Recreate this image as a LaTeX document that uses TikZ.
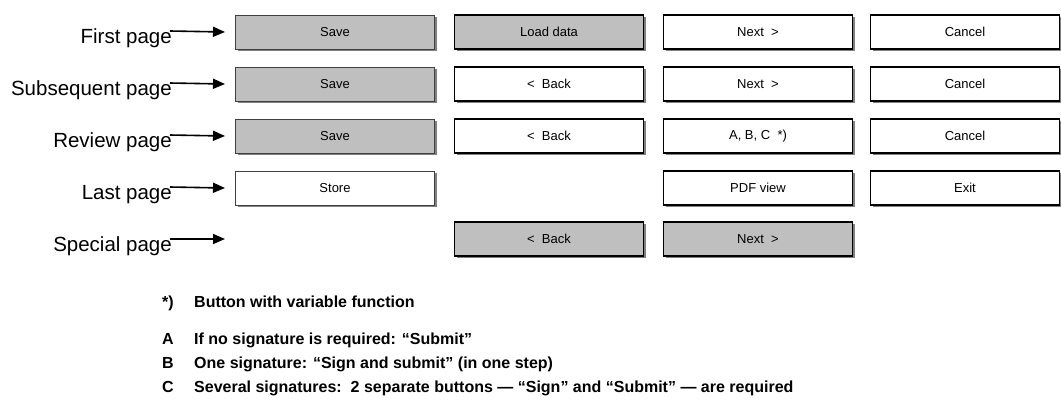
\documentclass[tikz,border=0pt]{standalone}
\usepackage{fontspec}
\setmainfont{Liberation Sans}
\usetikzlibrary{arrows.meta,shadows}

\begin{document}
\begin{tikzpicture}[x=1pt,y=-1pt,
   btn/.style={draw=black,line width=1.6pt,fill=white,minimum height=34pt,inner sep=0pt,
      drop shadow={shadow xshift=2pt,shadow yshift=-2pt,fill=black!50,opacity=1},
      font=\fontsize{13}{15}\selectfont},
   grey/.style={fill=black!25},
   thin/.style={draw=black!75,line width=0.8pt},
   wA/.style={minimum width=199pt},
   wB/.style={minimum width=189pt},
   page/.style={anchor=base east,inner sep=0pt,font=\fontsize{20.5}{24}\selectfont},
   arr/.style={-{Triangle[length=12pt,width=10pt]},line width=1.6pt},
   note/.style={anchor=base west,inner sep=0pt,font=\bfseries\fontsize{16}{19}\selectfont}]
   \useasboundingbox (0,0) rectangle (1061,400);

   % row labels
   \node[page] (first)   at (172,43)  {First page};
   \node[page] (subseq)  at (172,95)  {Subsequent page};
   \node[page] (review)  at (172,147) {Review page};
   \node[page] (last)    at (172,199) {Last page};
   \node[page] (special) at (172,251) {Special page};

   % buttons
   \node[btn,thin,grey,wA] (save1)  at (335,32) {Save};
   \node[btn,grey,wB]      (load1)  at (549,32) {Load data};
   \node[btn,wB]           (next1)  at (758,32) {Next~~>};
   \node[btn,wB]           (canc1)  at (965,32) {Cancel};

   \node[btn,thin,grey,wA] (save2)  at (335,84) {Save};
   \node[btn,wB]           (back2)  at (549,84) {<~~Back};
   \node[btn,wB]           (next2)  at (758,84) {Next~~>};
   \node[btn,wB]           (canc2)  at (965,84) {Cancel};

   \node[btn,thin,grey,wA] (save3)  at (335,136) {Save};
   \node[btn,wB]           (back3)  at (549,136) {<~~Back};
   \node[btn,wB]           (abc3)   at (758,136) {A, B, C~~*)};
   \node[btn,wB]           (canc3)  at (965,136) {Cancel};

   \node[btn,thin,wA]      (store4) at (335,188) {Store};
   \node[btn,wB]           (pdf4)   at (758,188) {PDF view};
   \node[btn,wB]           (exit4)  at (965,188) {Exit};

   \node[btn,grey,wB]      (back5)  at (549,239) {<~~Back};
   \node[btn,grey,wB]      (next5)  at (758,239) {Next~~>};

   % arrows into the rows
   \coordinate (tip5) at (225,239);
   \draw[arr] ([shift={(-2pt,12pt)}]first.base east)   -- (save1.west -| tip5);
   \draw[arr] ([shift={(-2pt,12pt)}]subseq.base east)  -- (save2.west -| tip5);
   \draw[arr] ([shift={(-2pt,12pt)}]review.base east)  -- (save3.west -| tip5);
   \draw[arr] ([shift={(-2pt,12pt)}]last.base east)    -- (store4.west -| tip5);
   \draw[arr] ([shift={(-2pt,12pt)}]special.base east) -- (tip5);

   % footnotes
   \node[note] (star)  at (162,307) {*)};
   \node[note] (starT) at (194,307) {Button with variable function};
   \node[note] (a)     at (162,344) {A};
   \node[note] (aT)    at (194,344) {If no signature is required: “Submit”};
   \node[note] (b)     at (162,368) {B};
   \node[note] (bT)    at (194,368) {One signature: “Sign and submit” (in one step)};
   \node[note] (c)     at (162,392) {C};
   \node[note] (cT)    at (194,392) {Several signatures:~~2 separate buttons — “Sign” and “Submit” — are required};
\end{tikzpicture}
\end{document}
